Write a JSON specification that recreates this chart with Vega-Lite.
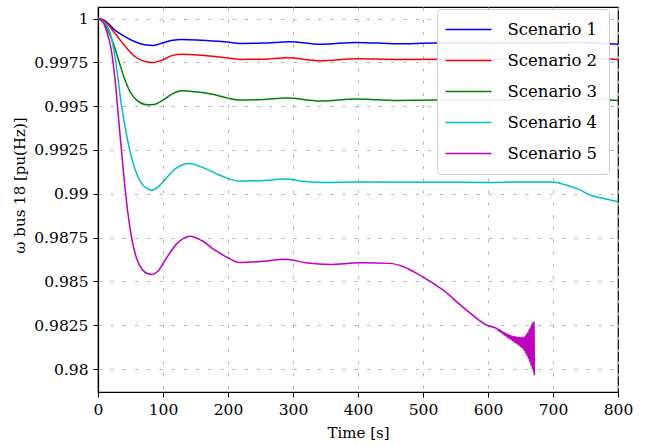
{
  "$schema": "https://vega.github.io/schema/vega-lite/v6.json",
  "autosize": {"type": "none"},
  "padding": {"left": 98, "top": 7, "right": 28, "bottom": 54},
  "width": 520,
  "height": 385,
  "background": "white",
  "config": {
    "font": "DejaVu Serif",
    "view": {"stroke": "black", "strokeWidth": 1.2},
    "axis": {
      "domainColor": "black",
      "domainWidth": 1.2,
      "tickColor": "black",
      "tickSize": 5,
      "tickWidth": 1,
      "labelColor": "black",
      "labelFont": "DejaVu Serif",
      "labelFontSize": 15.5,
      "titleFont": "DejaVu Serif",
      "titleFontSize": 15,
      "titleFontWeight": "normal",
      "titleColor": "black",
      "gridColor": "#b0b0b0",
      "gridDash": [3, 9.2],
      "gridWidth": 1
    },
    "legend": {"labelFont": "DejaVu Serif"}
  },
  "data": {
    "values": [
      {"s": "Scenario 1", "t": 0, "w": 1},
      {"s": "Scenario 1", "t": 10, "w": 0.9999},
      {"s": "Scenario 1", "t": 26, "w": 0.99934},
      {"s": "Scenario 1", "t": 40, "w": 0.999},
      {"s": "Scenario 1", "t": 57, "w": 0.99868},
      {"s": "Scenario 1", "t": 72, "w": 0.99851},
      {"s": "Scenario 1", "t": 85, "w": 0.99847},
      {"s": "Scenario 1", "t": 100, "w": 0.99862},
      {"s": "Scenario 1", "t": 115, "w": 0.99876},
      {"s": "Scenario 1", "t": 129, "w": 0.99881},
      {"s": "Scenario 1", "t": 160, "w": 0.99876},
      {"s": "Scenario 1", "t": 200, "w": 0.99866},
      {"s": "Scenario 1", "t": 218, "w": 0.99858},
      {"s": "Scenario 1", "t": 255, "w": 0.9986},
      {"s": "Scenario 1", "t": 295, "w": 0.99868},
      {"s": "Scenario 1", "t": 342, "w": 0.99853},
      {"s": "Scenario 1", "t": 398, "w": 0.99864},
      {"s": "Scenario 1", "t": 460, "w": 0.99856},
      {"s": "Scenario 1", "t": 520, "w": 0.9986},
      {"s": "Scenario 1", "t": 600, "w": 0.9986},
      {"s": "Scenario 1", "t": 680, "w": 0.99861},
      {"s": "Scenario 1", "t": 740, "w": 0.99864},
      {"s": "Scenario 1", "t": 800, "w": 0.99854},
      {"s": "Scenario 2", "t": 0, "w": 1},
      {"s": "Scenario 2", "t": 10, "w": 0.99985},
      {"s": "Scenario 2", "t": 26, "w": 0.99916},
      {"s": "Scenario 2", "t": 40, "w": 0.9985},
      {"s": "Scenario 2", "t": 57, "w": 0.99782},
      {"s": "Scenario 2", "t": 72, "w": 0.99755},
      {"s": "Scenario 2", "t": 85, "w": 0.9975},
      {"s": "Scenario 2", "t": 100, "w": 0.99765},
      {"s": "Scenario 2", "t": 115, "w": 0.9979},
      {"s": "Scenario 2", "t": 129, "w": 0.99796},
      {"s": "Scenario 2", "t": 160, "w": 0.9979},
      {"s": "Scenario 2", "t": 200, "w": 0.99775},
      {"s": "Scenario 2", "t": 218, "w": 0.99767},
      {"s": "Scenario 2", "t": 255, "w": 0.99768},
      {"s": "Scenario 2", "t": 290, "w": 0.99776},
      {"s": "Scenario 2", "t": 342, "w": 0.99759},
      {"s": "Scenario 2", "t": 398, "w": 0.99771},
      {"s": "Scenario 2", "t": 460, "w": 0.99767},
      {"s": "Scenario 2", "t": 600, "w": 0.99768},
      {"s": "Scenario 2", "t": 680, "w": 0.9977},
      {"s": "Scenario 2", "t": 740, "w": 0.99775},
      {"s": "Scenario 2", "t": 800, "w": 0.99767},
      {"s": "Scenario 3", "t": 0, "w": 1},
      {"s": "Scenario 3", "t": 10, "w": 0.9997},
      {"s": "Scenario 3", "t": 18, "w": 0.9991},
      {"s": "Scenario 3", "t": 26, "w": 0.9983},
      {"s": "Scenario 3", "t": 34, "w": 0.99735},
      {"s": "Scenario 3", "t": 41, "w": 0.99655},
      {"s": "Scenario 3", "t": 49, "w": 0.99585},
      {"s": "Scenario 3", "t": 57, "w": 0.99544},
      {"s": "Scenario 3", "t": 66, "w": 0.99518},
      {"s": "Scenario 3", "t": 76, "w": 0.99508},
      {"s": "Scenario 3", "t": 86, "w": 0.9951},
      {"s": "Scenario 3", "t": 100, "w": 0.99535},
      {"s": "Scenario 3", "t": 115, "w": 0.99572},
      {"s": "Scenario 3", "t": 129, "w": 0.99588},
      {"s": "Scenario 3", "t": 150, "w": 0.99582},
      {"s": "Scenario 3", "t": 180, "w": 0.99565},
      {"s": "Scenario 3", "t": 200, "w": 0.99546},
      {"s": "Scenario 3", "t": 218, "w": 0.99535},
      {"s": "Scenario 3", "t": 255, "w": 0.99538},
      {"s": "Scenario 3", "t": 290, "w": 0.99546},
      {"s": "Scenario 3", "t": 342, "w": 0.99529},
      {"s": "Scenario 3", "t": 398, "w": 0.99541},
      {"s": "Scenario 3", "t": 460, "w": 0.99533},
      {"s": "Scenario 3", "t": 520, "w": 0.99535},
      {"s": "Scenario 3", "t": 600, "w": 0.99535},
      {"s": "Scenario 3", "t": 680, "w": 0.99537},
      {"s": "Scenario 3", "t": 740, "w": 0.99542},
      {"s": "Scenario 3", "t": 800, "w": 0.99533},
      {"s": "Scenario 4", "t": 0, "w": 1},
      {"s": "Scenario 4", "t": 8, "w": 0.99985},
      {"s": "Scenario 4", "t": 15, "w": 0.9995},
      {"s": "Scenario 4", "t": 21, "w": 0.99887},
      {"s": "Scenario 4", "t": 28, "w": 0.99735},
      {"s": "Scenario 4", "t": 36, "w": 0.99506},
      {"s": "Scenario 4", "t": 44, "w": 0.99335},
      {"s": "Scenario 4", "t": 52, "w": 0.99202},
      {"s": "Scenario 4", "t": 60, "w": 0.9911},
      {"s": "Scenario 4", "t": 68, "w": 0.99055},
      {"s": "Scenario 4", "t": 76, "w": 0.99028},
      {"s": "Scenario 4", "t": 83, "w": 0.99021},
      {"s": "Scenario 4", "t": 92, "w": 0.99038},
      {"s": "Scenario 4", "t": 104, "w": 0.99085},
      {"s": "Scenario 4", "t": 120, "w": 0.99145},
      {"s": "Scenario 4", "t": 141, "w": 0.99173},
      {"s": "Scenario 4", "t": 160, "w": 0.99152},
      {"s": "Scenario 4", "t": 190, "w": 0.99102},
      {"s": "Scenario 4", "t": 218, "w": 0.99072},
      {"s": "Scenario 4", "t": 250, "w": 0.99075},
      {"s": "Scenario 4", "t": 288, "w": 0.99084},
      {"s": "Scenario 4", "t": 320, "w": 0.9907},
      {"s": "Scenario 4", "t": 346, "w": 0.99065},
      {"s": "Scenario 4", "t": 400, "w": 0.99068},
      {"s": "Scenario 4", "t": 500, "w": 0.99066},
      {"s": "Scenario 4", "t": 600, "w": 0.99065},
      {"s": "Scenario 4", "t": 650, "w": 0.99068},
      {"s": "Scenario 4", "t": 698, "w": 0.99067},
      {"s": "Scenario 4", "t": 720, "w": 0.9905},
      {"s": "Scenario 4", "t": 740, "w": 0.99025},
      {"s": "Scenario 4", "t": 757, "w": 0.98993},
      {"s": "Scenario 4", "t": 780, "w": 0.98972},
      {"s": "Scenario 4", "t": 800, "w": 0.98954},
      {"s": "Scenario 5", "t": 0, "w": 1},
      {"s": "Scenario 5", "t": 7, "w": 0.99985},
      {"s": "Scenario 5", "t": 13, "w": 0.9993},
      {"s": "Scenario 5", "t": 20, "w": 0.9983},
      {"s": "Scenario 5", "t": 26, "w": 0.9966},
      {"s": "Scenario 5", "t": 32, "w": 0.99415},
      {"s": "Scenario 5", "t": 39, "w": 0.9913},
      {"s": "Scenario 5", "t": 46, "w": 0.9889},
      {"s": "Scenario 5", "t": 53, "w": 0.98725},
      {"s": "Scenario 5", "t": 60, "w": 0.98625},
      {"s": "Scenario 5", "t": 68, "w": 0.98568},
      {"s": "Scenario 5", "t": 76, "w": 0.98545},
      {"s": "Scenario 5", "t": 83, "w": 0.9854},
      {"s": "Scenario 5", "t": 92, "w": 0.98558},
      {"s": "Scenario 5", "t": 104, "w": 0.98625},
      {"s": "Scenario 5", "t": 120, "w": 0.9871},
      {"s": "Scenario 5", "t": 142, "w": 0.98758},
      {"s": "Scenario 5", "t": 160, "w": 0.98732},
      {"s": "Scenario 5", "t": 180, "w": 0.98678},
      {"s": "Scenario 5", "t": 200, "w": 0.98635},
      {"s": "Scenario 5", "t": 218, "w": 0.98608},
      {"s": "Scenario 5", "t": 250, "w": 0.98614},
      {"s": "Scenario 5", "t": 288, "w": 0.98627},
      {"s": "Scenario 5", "t": 320, "w": 0.98606},
      {"s": "Scenario 5", "t": 357, "w": 0.98597},
      {"s": "Scenario 5", "t": 403, "w": 0.98606},
      {"s": "Scenario 5", "t": 449, "w": 0.98603},
      {"s": "Scenario 5", "t": 469, "w": 0.98585},
      {"s": "Scenario 5", "t": 495, "w": 0.98536},
      {"s": "Scenario 5", "t": 531, "w": 0.9845},
      {"s": "Scenario 5", "t": 567, "w": 0.98336},
      {"s": "Scenario 5", "t": 598, "w": 0.9825},
      {"s": "Scenario 5", "t": 615, "w": 0.98228},
      {"s": "Scenario 5", "t": 616, "w": 0.9822},
      {"s": "Scenario 5", "t": 617, "w": 0.98226},
      {"s": "Scenario 5", "t": 618, "w": 0.98215},
      {"s": "Scenario 5", "t": 619, "w": 0.98222},
      {"s": "Scenario 5", "t": 620, "w": 0.9821},
      {"s": "Scenario 5", "t": 621, "w": 0.98215},
      {"s": "Scenario 5", "t": 622, "w": 0.98205},
      {"s": "Scenario 5", "t": 623, "w": 0.98212},
      {"s": "Scenario 5", "t": 624, "w": 0.98199},
      {"s": "Scenario 5", "t": 625, "w": 0.98209},
      {"s": "Scenario 5", "t": 626, "w": 0.98193},
      {"s": "Scenario 5", "t": 627, "w": 0.98203},
      {"s": "Scenario 5", "t": 628, "w": 0.98188},
      {"s": "Scenario 5", "t": 629, "w": 0.982},
      {"s": "Scenario 5", "t": 630, "w": 0.98182},
      {"s": "Scenario 5", "t": 631, "w": 0.98197},
      {"s": "Scenario 5", "t": 632, "w": 0.98177},
      {"s": "Scenario 5", "t": 633, "w": 0.98193},
      {"s": "Scenario 5", "t": 634, "w": 0.98172},
      {"s": "Scenario 5", "t": 635, "w": 0.98191},
      {"s": "Scenario 5", "t": 636, "w": 0.98167},
      {"s": "Scenario 5", "t": 637, "w": 0.98189},
      {"s": "Scenario 5", "t": 638, "w": 0.98161},
      {"s": "Scenario 5", "t": 639, "w": 0.98186},
      {"s": "Scenario 5", "t": 640, "w": 0.98156},
      {"s": "Scenario 5", "t": 641, "w": 0.98185},
      {"s": "Scenario 5", "t": 642, "w": 0.98151},
      {"s": "Scenario 5", "t": 643, "w": 0.98184},
      {"s": "Scenario 5", "t": 644, "w": 0.98146},
      {"s": "Scenario 5", "t": 645, "w": 0.98182},
      {"s": "Scenario 5", "t": 646, "w": 0.9814},
      {"s": "Scenario 5", "t": 647, "w": 0.98181},
      {"s": "Scenario 5", "t": 648, "w": 0.98134},
      {"s": "Scenario 5", "t": 649, "w": 0.98181},
      {"s": "Scenario 5", "t": 650, "w": 0.98128},
      {"s": "Scenario 5", "t": 651, "w": 0.9818},
      {"s": "Scenario 5", "t": 652, "w": 0.98122},
      {"s": "Scenario 5", "t": 653, "w": 0.98181},
      {"s": "Scenario 5", "t": 654, "w": 0.98114},
      {"s": "Scenario 5", "t": 655, "w": 0.98182},
      {"s": "Scenario 5", "t": 656, "w": 0.98105},
      {"s": "Scenario 5", "t": 657, "w": 0.98188},
      {"s": "Scenario 5", "t": 658, "w": 0.9809},
      {"s": "Scenario 5", "t": 659, "w": 0.982},
      {"s": "Scenario 5", "t": 660, "w": 0.98075},
      {"s": "Scenario 5", "t": 661, "w": 0.98208},
      {"s": "Scenario 5", "t": 662, "w": 0.98058},
      {"s": "Scenario 5", "t": 663, "w": 0.98225},
      {"s": "Scenario 5", "t": 664, "w": 0.9804},
      {"s": "Scenario 5", "t": 665, "w": 0.98238},
      {"s": "Scenario 5", "t": 666, "w": 0.9802},
      {"s": "Scenario 5", "t": 667, "w": 0.98255},
      {"s": "Scenario 5", "t": 668, "w": 0.98},
      {"s": "Scenario 5", "t": 669, "w": 0.98266},
      {"s": "Scenario 5", "t": 670, "w": 0.97985},
      {"s": "Scenario 5", "t": 670.7, "w": 0.98268},
      {"s": "Scenario 5", "t": 671.3, "w": 0.97965}
    ]
  },
  "mark": {"type": "line", "strokeWidth": 1.5, "clip": true, "interpolate": "monotone"},
  "encoding": {
    "x": {
      "field": "t",
      "type": "quantitative",
      "scale": {"domain": [0, 800], "nice": false, "zero": false},
      "axis": {
        "title": "Time [s]",
        "values": [0, 100, 200, 300, 400, 500, 600, 700, 800],
        "labelPadding": 5,
        "titlePadding": 8,
        "labelFlush": false,
        "grid": true
      }
    },
    "y": {
      "field": "w",
      "type": "quantitative",
      "scale": {"domain": [0.97869, 1.00066], "nice": false, "zero": false},
      "axis": {
        "title": "ω bus 18 [pu(Hz)]",
        "values": [0.98, 0.9825, 0.985, 0.9875, 0.99, 0.9925, 0.995, 0.9975, 1],
        "labelExpr": "format(datum.value, '.4~f')",
        "labelPadding": 5,
        "titlePadding": 6,
        "titleY": 178,
        "grid": true
      }
    },
    "color": {
      "field": "s",
      "type": "nominal",
      "scale": {
        "domain": ["Scenario 1", "Scenario 2", "Scenario 3", "Scenario 4", "Scenario 5"],
        "range": ["#0000ff", "#ff0000", "#008000", "#00bfbf", "#bf00bf"]
      },
      "legend": {
        "title": null,
        "orient": "none",
        "legendX": 339,
        "legendY": 2,
        "padding": 11.5,
        "fillColor": "rgba(255,255,255,0.9)",
        "strokeColor": "#cccccc",
        "cornerRadius": 4,
        "symbolType": "M-2.875,0H2.875",
        "symbolSize": 256,
        "symbolStrokeWidth": 1.5,
        "symbolOffset": 11,
        "labelOffset": 30,
        "labelFont": "DejaVu Serif",
        "labelFontSize": 16.5,
        "labelColor": "black",
        "rowPadding": 13,
        "labelLimit": 200
      }
    }
  }
}
